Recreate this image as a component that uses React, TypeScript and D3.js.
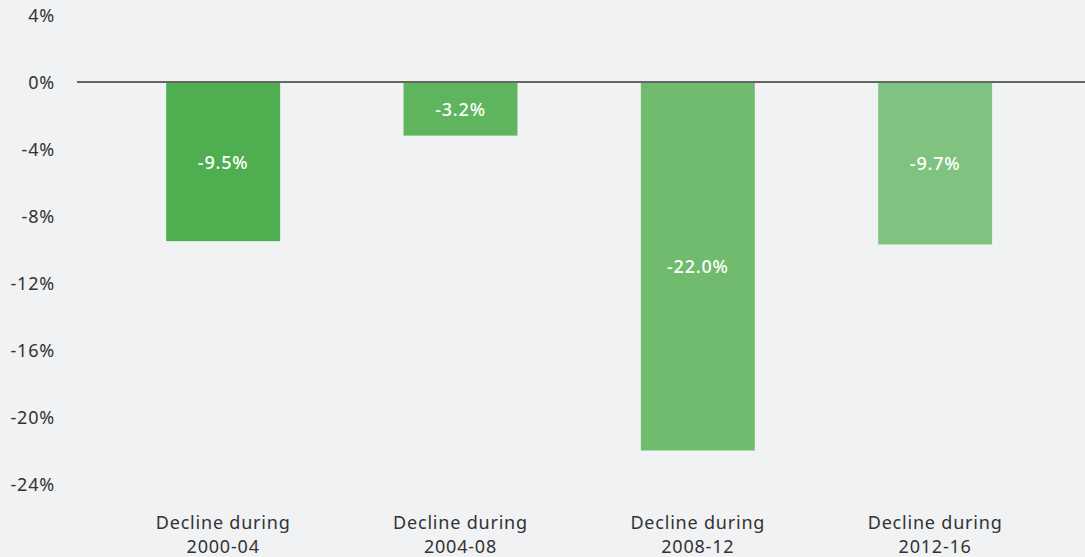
import React from "react";
import * as d3 from "d3";

const categories = ["2000-04", "2004-08", "2008-12", "2012-16"];
const values = [-9.5, -3.2, -22.0, -9.7];
const barColors = ["#4fae4f", "#5fb45e", "#71bb6f", "#80c380"];
const yTicks = [4, 0, -4, -8, -12, -16, -20, -24];

const W = 1085;
const H = 557;
const FONT = "'Noto Sans', Lato, sans-serif";
const LS = 0.8;

export default function App() {
  const x = d3
    .scaleBand<string>()
    .domain(categories)
    .range([104.5, 1053.8])
    .paddingInner(0.52)
    .paddingOuter(0.26);
  const y = d3.scaleLinear().domain([-24, 4]).range([484, 15]);

  return (
    <svg
      width={W}
      height={H}
      style={{ position: "absolute", left: 0, top: 0, background: "#f1f2f4" }}
      fontFamily={FONT}
      letterSpacing={LS}
    >
      <rect x={0} y={0} width={W} height={H} fill="#f1f2f4" />
      {yTicks.map((t) => (
        <text
          key={t}
          x={55}
          y={y(t)}
          textAnchor="end"
          dominantBaseline="central"
          fontSize={18}
          fill="#333"
        >
          {`${t}%`}
        </text>
      ))}
      {categories.map((c, i) => {
        const v = values[i];
        const bx = x(c)!;
        const y0 = y(0);
        const y1 = y(v);
        return (
          <g key={c}>
            <rect x={bx} y={y0} width={x.bandwidth()} height={y1 - y0} fill={barColors[i]} />
            <text
              x={bx + x.bandwidth() / 2}
              y={(y0 + y1) / 2}
              textAnchor="middle"
              dominantBaseline="central"
              fontSize={18}
              fontWeight={500}
              fill="#ffffff"
            >
              {`${v.toFixed(1)}%`}
            </text>
            <text
              x={bx + x.bandwidth() / 2}
              y={522}
              textAnchor="middle"
              dominantBaseline="central"
              fontSize={18}
              fill="#333"
            >
              Decline during
            </text>
            <text
              x={bx + x.bandwidth() / 2}
              y={546}
              textAnchor="middle"
              dominantBaseline="central"
              fontSize={18}
              fill="#333"
            >
              {c}
            </text>
          </g>
        );
      })}
      <line x1={77} x2={W} y1={y(0)} y2={y(0)} stroke="#666" strokeWidth={2} />
    </svg>
  );
}
